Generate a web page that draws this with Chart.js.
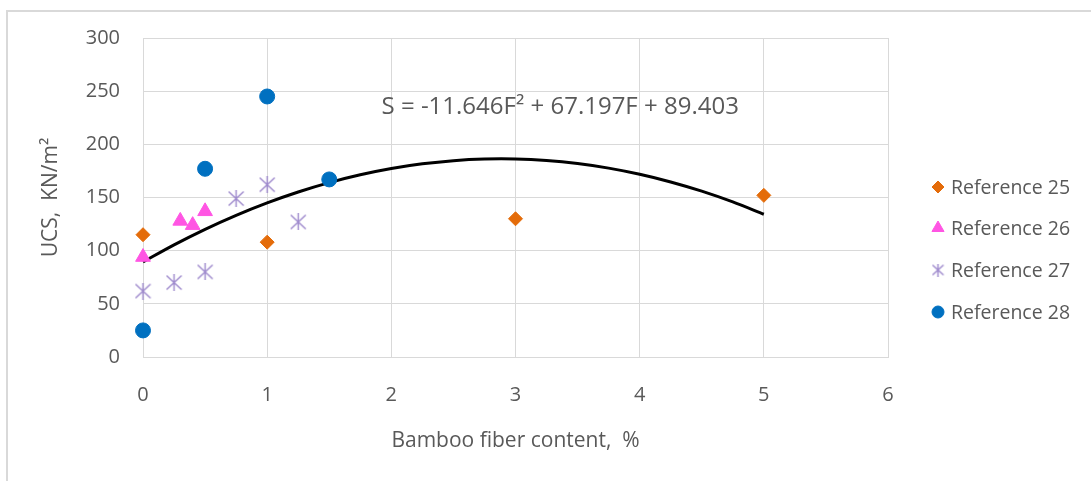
<!DOCTYPE html>
<html>
<head>
<meta charset="utf-8">
<script src="https://cdn.jsdelivr.net/npm/chart.js@4.4.1/dist/chart.umd.min.js"></script>
<style>
html, body { margin: 0; padding: 0; background: #fff; }
#wrap { position: relative; width: 1091px; height: 481px; overflow: hidden; }
#frame { position: absolute; left: 6px; top: 10px; width: 1200px; height: 600px;
  border-left: 2px solid #d9d9d9; border-top: 2px solid #d9d9d9; }
canvas { position: absolute; left: 0; top: 0; }
</style>
</head>
<body>
<div id="wrap">
  <div id="frame"></div>
  <canvas id="ucs_Chart" width="1091" height="481"></canvas>
</div>
<script>
// data
const ref25_x = [0, 1, 3, 5];
const ref25_y = [115, 108, 130, 152];
const ref26_x = [0, 0.3, 0.4, 0.5];
const ref26_y = [94, 128, 124, 137];
const ref27_x = [0, 0.25, 0.5, 0.75, 1, 1.25];
const ref27_y = [62, 70, 80, 149, 162, 127];
const ref28_x = [0, 0.5, 1, 1.5];
const ref28_y = [25, 177, 245, 167];

const seriesNames = ['Reference 25', 'Reference 26', 'Reference 27', 'Reference 28'];

// trendline as printed on the chart: S = a*F^2 + b*F + c
const trendCoef = [-11.646, 67.197, 89.403];
const trendF = [0, 0.25, 0.5, 0.75, 1, 1.25, 1.5, 1.75, 2, 2.25, 2.5, 2.75, 3, 3.25, 3.5, 3.75, 4, 4.25, 4.5, 4.75, 5];
const trendLabel = 'S = -11.646F\u00b2 + 67.197F + 89.403';
const trendLabelAt = [3.36, 235];

const xTicks = [0, 1, 2, 3, 4, 5, 6];
const yTicks = [0, 50, 100, 150, 200, 250, 300];

const textColor = '#595959';
const fontFam = '"Open Sans", sans-serif';

function pts(xs, ys) {
	return xs.map((x, i) => ({ x: x, y: ys[i] }));
}

// excel style asterisk: an X with a vertical stroke
function makeAsterisk(size, color) {
	const c = document.createElement('canvas');
	c.width = size; c.height = size;
	const g = c.getContext('2d');
	g.strokeStyle = color;
	g.lineWidth = 1.4;
	g.beginPath();
	g.moveTo(1, 1.5); g.lineTo(size - 1, size - 1.5);
	g.moveTo(size - 1, 1.5); g.lineTo(1, size - 1.5);
	g.moveTo(size / 2, 0); g.lineTo(size / 2, size);
	g.stroke();
	return c;
}
const starBig = makeAsterisk(17, '#9d88cc');
const starSmall = makeAsterisk(13, '#9d88cc');

const trendData = trendF.map(f => ({ x: f, y: trendCoef[0] * f * f + trendCoef[1] * f + trendCoef[2] }));

// equation text + legend on the right
const extras = {
	id: 'extras',
	afterDatasetsDraw(chart) {
		const ctx = chart.ctx;
		const xs = chart.scales.x, ys = chart.scales.y;
		ctx.save();
		ctx.fillStyle = textColor;
		ctx.font = '24px ' + fontFam;
		ctx.textAlign = 'center';
		ctx.textBaseline = 'middle';
		ctx.fillText(trendLabel, xs.getPixelForValue(trendLabelAt[0]), ys.getPixelForValue(trendLabelAt[1]));

		const legY = [187, 228, 270, 312];
		ctx.font = '19.5px ' + fontFam;
		ctx.textAlign = 'left';
		for (let i = 0; i < 4; i++) {
			const ds = chart.data.datasets[i];
			const style = i === 2 ? starSmall : ds.pointStyle;
			ctx.fillStyle = ds.backgroundColor;
			ctx.strokeStyle = ds.borderColor;
			ctx.lineWidth = 1;
			Chart.helpers.drawPoint(ctx, { pointStyle: style, radius: i === 1 ? 7 : 6, rotation: 0, borderWidth: 1 }, 938, legY[i]);
			ctx.fillStyle = textColor;
			ctx.fillText(seriesNames[i], 951, legY[i] + 1);
		}
		ctx.restore();
	}
};

var context = document.getElementById('ucs_Chart').getContext('2d');
var ucs_Chart = new Chart(context, {
	type: 'scatter',
	data: {
		datasets: [
			{
				label: seriesNames[0],
				data: pts(ref25_x, ref25_y),
				pointStyle: 'rectRot',
				pointRadius: 7,
				backgroundColor: '#e46c0a',
				borderColor: '#e46c0a',
				borderWidth: 1,
				clip: false
			},
			{
				label: seriesNames[1],
				data: pts(ref26_x, ref26_y),
				pointStyle: 'triangle',
				pointRadius: 8.5,
				backgroundColor: '#ff55e3',
				borderColor: '#ff55e3',
				borderWidth: 1,
				clip: false
			},
			{
				label: seriesNames[2],
				data: pts(ref27_x, ref27_y),
				pointStyle: starBig,
				backgroundColor: '#9d88cc',
				borderColor: '#9d88cc',
				clip: false
			},
			{
				label: seriesNames[3],
				data: pts(ref28_x, ref28_y),
				pointStyle: 'circle',
				pointRadius: 7.5,
				backgroundColor: '#0070c0',
				borderColor: '#0070c0',
				borderWidth: 1,
				clip: false
			},
			{
				label: 'trend',
				type: 'line',
				data: trendData,
				showLine: true,
				pointRadius: 0,
				borderColor: '#000000',
				borderWidth: 3,
				tension: 0.3,
				fill: false,
				clip: false
			}
		]
	},
	options: {
		responsive: false,
		animation: false,
		events: [],
		layout: { padding: { left: 0, right: 203, top: 38, bottom: 14 } },
		plugins: {
			legend: { display: false },
			tooltip: { enabled: false }
		},
		scales: {
			x: {
				type: 'linear',
				min: 0, max: 6,
				afterBuildTicks: (s) => { s.ticks = xTicks.map(v => ({ value: v })); },
				afterFit: (s) => { s.height = 110; },
				grid: { color: '#d9d9d9', lineWidth: 1, drawTicks: false },
				border: { color: '#d9d9d9', width: 1 },
				ticks: { color: textColor, font: { family: fontFam, size: 20 }, padding: 26 },
				title: {
					display: true,
					text: 'Bamboo fiber content,  %',
					color: textColor,
					font: { family: fontFam, size: 21 },
					padding: { top: 0, bottom: 13 }
				}
			},
			y: {
				type: 'linear',
				min: 0, max: 300,
				afterBuildTicks: (s) => { s.ticks = yTicks.map(v => ({ value: v })); },
				afterFit: (s) => { s.width = 143; },
				grid: { color: '#d9d9d9', lineWidth: 1, drawTicks: false },
				border: { color: '#d9d9d9', width: 1 },
				ticks: { color: textColor, font: { family: fontFam, size: 20 }, padding: 23 },
				title: {
					display: true,
					text: 'UCS,  KN/m\u00b2',
					color: textColor,
					font: { family: fontFam, size: 21 },
					padding: { top: 38, bottom: 0 }
				}
			}
		}
	},
	plugins: [extras]
});
</script>
</body>
</html>
